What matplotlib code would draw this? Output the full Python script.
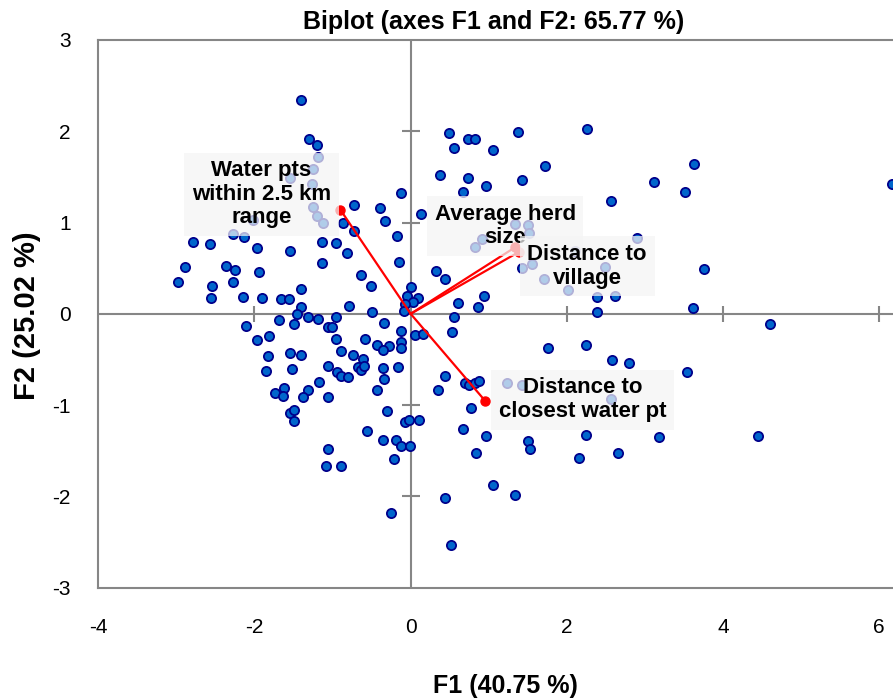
import matplotlib
matplotlib.use("Agg")
import matplotlib.pyplot as plt

plt.rcParams["font.family"] = ["Liberation Sans", "DejaVu Sans"]

# Observation scores on the first two factors
f1_scores = [
    -1.41, -1.30, -1.20, -1.19, -1.25, -1.54, -1.26, -1.25, -1.20, -1.12,
    -0.87, -2.02, -2.28, -2.13, -2.79, -2.57, -1.97, -1.54, -1.14, -0.96,
    -0.82, -0.72, -0.72, -0.39, -0.33, -0.12, -0.18, -0.15, 0.13, -2.89,
    -2.37, -2.25, -1.94, -1.13, -2.98, -2.54, -2.28, -1.40, -0.63, -0.51,
    -2.56, -2.15, -1.91, -1.66, -1.56, -0.79, -0.49, -1.41, -1.46, -1.32,
    -1.19, -0.96, -1.69, -0.34, 0.01, -0.05, 0.10, 0.03, -0.07, -0.09,
    -2.11, -1.97, -1.82, -1.49, -1.06, -1.01, -0.13, 0.06, -0.13, -0.12,
    -0.28, -0.43, -0.35, -0.58, -0.95, -0.89, -0.74, -0.61, -0.67, -0.63,
    -0.60, -0.36, -0.16, -0.34, -0.43, -1.83, -1.54, -1.41, -1.85, -1.52,
    -1.06, -0.94, -0.89, -0.80, -1.18, -1.74, -1.62, -1.63, -1.32, -1.38,
    -1.06, -1.54, -1.49, -1.50, -0.30, -0.07, -0.02, 0.11, -0.56, -0.36,
    -0.19, -0.13, -0.01, -0.21, -1.06, -1.09, -0.89, -0.25, 0.49, 0.73,
    0.82, 0.55, 1.05, 1.38, 2.26, 0.38, 0.74, 0.96, 1.42, 1.72,
    0.67, 2.57, 3.12, 3.63, 3.51, 6.17, 1.34, 1.50, 1.51, 0.91,
    0.82, 2.90, 1.43, 1.56, 1.71, 2.01, 2.49, 2.10, 2.38, 2.62,
    3.76, 0.32, 0.44, 0.61, 0.94, 0.86, 0.56, 2.38, 3.61, 4.60,
    0.53, 0.16, 1.76, 2.24, 2.58, 2.79, 3.54, 0.44, 0.35, 0.69,
    0.75, 0.82, 0.87, 1.23, 1.42, 2.57, 0.77, 0.67, 0.97, 1.50,
    1.53, 2.25, 2.65, 2.15, 3.18, 4.45, 0.84, 1.05, 1.33, 0.44,
    0.52,
]
f2_scores = [
    2.34, 1.91, 1.85, 1.72, 1.59, 1.49, 1.42, 1.17, 1.07, 1.00,
    0.99, 1.03, 0.87, 0.84, 0.79, 0.76, 0.72, 0.69, 0.79, 0.78,
    0.67, 1.19, 0.91, 1.16, 1.02, 1.32, 0.85, 0.57, 1.09, 0.51,
    0.52, 0.48, 0.46, 0.56, 0.35, 0.30, 0.35, 0.27, 0.42, 0.30,
    0.17, 0.18, 0.17, 0.16, 0.16, 0.08, 0.02, 0.07, 0.00, -0.04,
    -0.06, -0.03, -0.07, -0.10, 0.29, 0.20, 0.17, 0.13, 0.11, 0.03,
    -0.13, -0.29, -0.24, -0.11, -0.15, -0.14, -0.19, -0.23, -0.31, -0.37,
    -0.35, -0.34, -0.40, -0.28, -0.28, -0.41, -0.45, -0.50, -0.58, -0.62,
    -0.57, -0.59, -0.58, -0.71, -0.84, -0.46, -0.43, -0.45, -0.63, -0.60,
    -0.57, -0.64, -0.68, -0.69, -0.75, -0.87, -0.81, -0.90, -0.84, -0.91,
    -0.91, -1.09, -1.05, -1.17, -1.07, -1.19, -1.16, -1.16, -1.28, -1.38,
    -1.38, -1.45, -1.45, -1.59, -1.48, -1.67, -1.67, -2.18, 1.98, 1.92,
    1.92, 1.82, 1.80, 1.99, 2.02, 1.52, 1.49, 1.40, 1.47, 1.62,
    1.33, 1.24, 1.44, 1.64, 1.33, 1.42, 0.98, 0.97, 0.88, 0.82,
    0.73, 0.83, 0.50, 0.55, 0.38, 0.26, 0.51, 0.69, 0.18, 0.19,
    0.49, 0.47, 0.38, 0.12, 0.20, 0.07, -0.03, 0.02, 0.06, -0.11,
    -0.20, -0.22, -0.37, -0.34, -0.51, -0.54, -0.64, -0.68, -0.84, -0.76,
    -0.78, -0.76, -0.74, -0.76, -0.78, -0.93, -1.03, -1.26, -1.34, -1.39,
    -1.48, -1.33, -1.53, -1.58, -1.35, -1.34, -1.52, -1.88, -1.99, -2.02,
    -2.53,
]

# Variable loadings (correlation vectors)
var_names = [
    "Water pts\nwithin 2.5 km\nrange",
    "Average herd\nsize",
    "Distance to\nvillage",
    "Distance to\nclosest water pt",
]
var_f1 = [-0.90, 1.34, 1.39, 0.95]
var_f2 = [1.14, 0.73, 0.68, -0.95]

x_ticks = [-4, -2, 0, 2, 4, 6]
y_ticks = [-3, -2, -1, 0, 1, 2, 3]

title = "Biplot (axes F1 and F2: 65.77 %)"
x_label = "F1 (40.75 %)"
y_label = "F2 (25.02 %)"

# Where each variable's label box sits (F1, F2 coordinates of the box centre)
label_pos = [(-1.91, 1.31), (1.21, 0.96), (2.26, 0.52), (2.20, -0.94)]

grey = "#868686"

fig = plt.figure(figsize=(8.93, 7.00), dpi=100)
ax = fig.add_axes([98.3 / 893, 112.4 / 700, (912 - 98.3) / 893, (587.6 - 40) / 700])
ax.set_xlim(-4, 6.42)
ax.set_ylim(-3, 3)

for side in ("left", "top", "bottom", "right"):
    ax.spines[side].set_color(grey)
    ax.spines[side].set_linewidth(1.5)

ax.axhline(0, color=grey, lw=1.5, zorder=1)
ax.axvline(0, color=grey, lw=1.5, zorder=1)

# Cross tick marks on the zero lines
inner_x = [t for t in x_ticks if t not in (0, x_ticks[0])]
inner_y = [t for t in y_ticks if t not in (0, y_ticks[0], y_ticks[-1])]
ax.plot(inner_x, [0] * len(inner_x), ls="none", marker="|", ms=12,
        mew=1.5, color=grey, zorder=1)
ax.plot([0] * len(inner_y), inner_y, ls="none", marker="_", ms=13,
        mew=1.5, color=grey, zorder=1)

ax.set_xticks(x_ticks)
ax.set_yticks(y_ticks)
ax.set_xticklabels([str(t) for t in x_ticks])
ax.set_yticklabels([str(t) for t in y_ticks])
ax.tick_params(axis="both", length=0, labelsize=15, colors="black")
ax.tick_params(axis="x", pad=22)
ax.tick_params(axis="y", pad=20)

# Observations
ax.scatter(f1_scores, f2_scores, s=44, c="#0066CC", edgecolors="#00008B",
           linewidths=1.3, zorder=3)

# Variable vectors
for vx, vy in zip(var_f1, var_f2):
    ax.plot([0, vx], [0, vy], color="#FF0000", lw=1.6, zorder=4)
    ax.plot([vx], [vy], ls="none", marker="o", ms=6.5, color="#FF0000", zorder=4)

# Variable labels in translucent boxes
for name, (lx, ly) in zip(var_names, label_pos):
    ax.text(lx, ly, name, ha="center", va="center", fontsize=16,
            fontweight="bold", color="black", linespacing=1.15, zorder=6,
            bbox=dict(boxstyle="square,pad=0.35", facecolor="#F5F5F5",
                      edgecolor="none", alpha=0.72))

fig.text(494 / 893, 1 - 22 / 700, title, ha="center", va="center",
         fontsize=18, fontweight="bold")
fig.text(505 / 893, 1 - 686 / 700, x_label, ha="center", va="center",
         fontsize=18, fontweight="bold")
fig.text(27 / 893, 1 - 316 / 700, y_label, ha="center", va="center",
         rotation=90, fontsize=21, fontweight="bold")

fig.savefig("out.png", dpi=100)
